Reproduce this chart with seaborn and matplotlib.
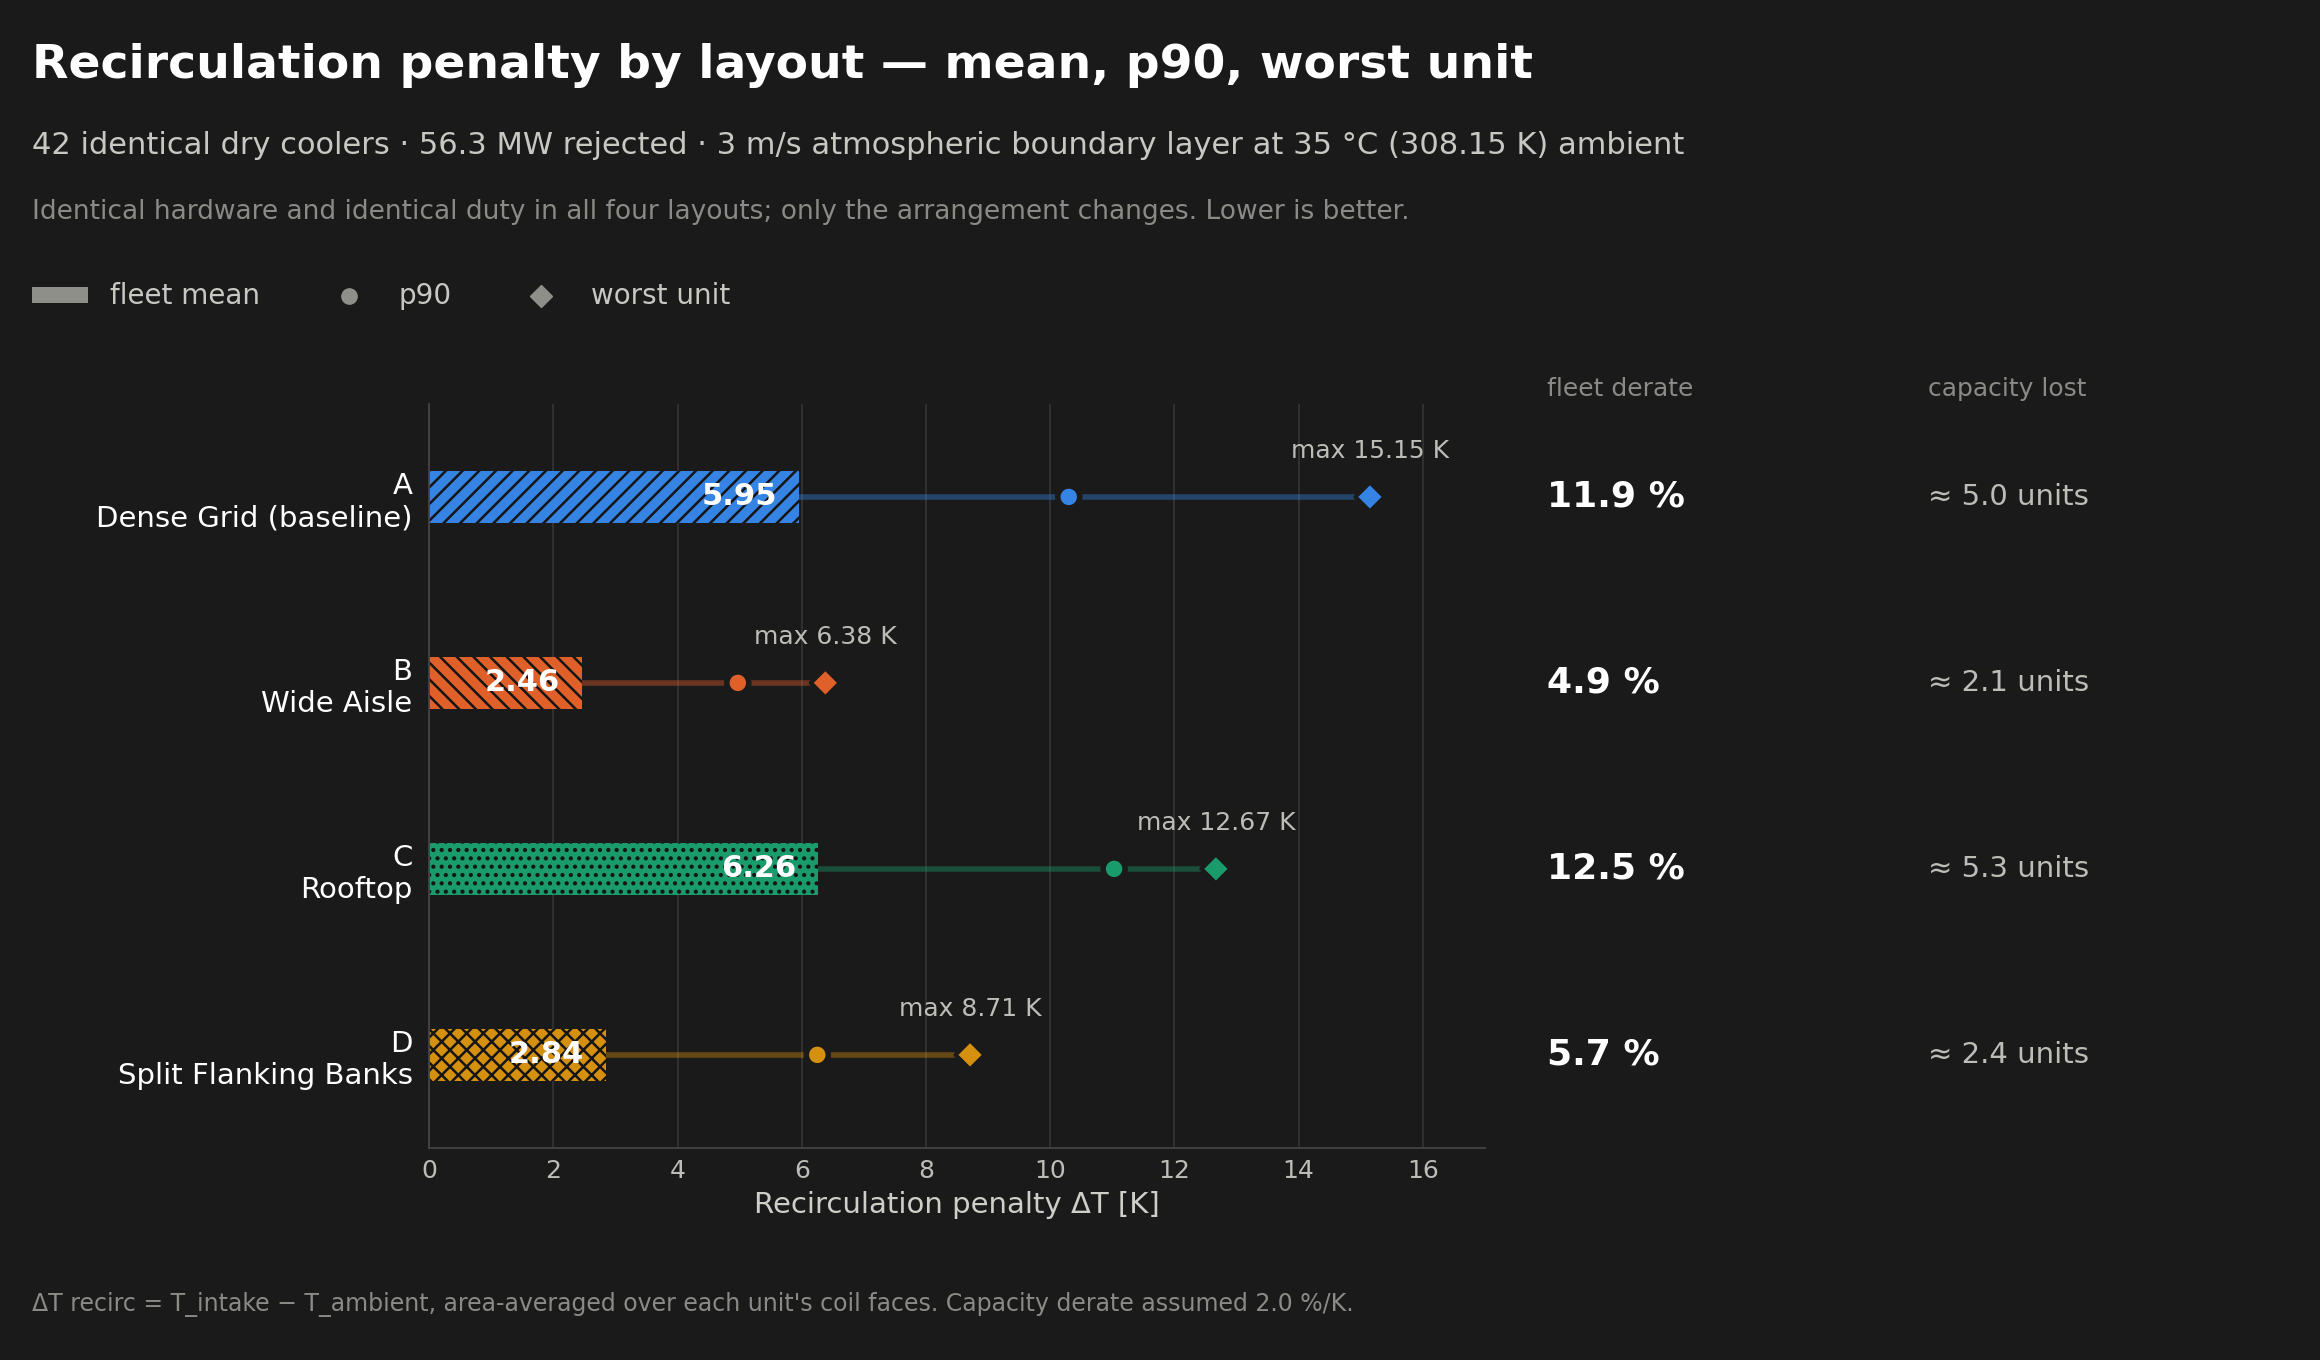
import matplotlib
matplotlib.use("Agg")
import matplotlib.pyplot as plt
import matplotlib.transforms as mtransforms
from matplotlib.patches import Patch
from matplotlib.lines import Line2D
import seaborn as sns
import pandas as pd

codes = ["A", "B", "C", "D"]
names = ["Dense Grid (baseline)", "Wide Aisle", "Rooftop", "Split Flanking Banks"]
mean_vals = [5.95, 2.46, 6.26, 2.84]
p90_vals = [10.3, 4.97, 11.03, 6.25]
worst_vals = [15.15, 6.38, 12.67, 8.71]
derate = ["11.9 %", "4.9 %", "12.5 %", "5.7 %"]
units_lost = ["≈ 5.0 units", "≈ 2.1 units", "≈ 5.3 units", "≈ 2.4 units"]
colors = ["#3584e4", "#e0602a", "#1a9b6c", "#d4900e"]
hatches = ["//", "\\\\", "..", "xx"]
xticks = [0, 2, 4, 6, 8, 10, 12, 14, 16]

BG = "#1a1a1a"
sns.set_theme(style="dark")
plt.rcParams["font.family"] = ["DejaVu Sans"]
plt.rcParams["hatch.linewidth"] = 1.8

fig = plt.figure(figsize=(23.2, 13.6), dpi=100, facecolor=BG)
ax = fig.add_axes([0.185, 0.156, 0.455, 0.547])
ax.set_facecolor(BG)

labels = [f"{c}\n{n}" for c, n in zip(codes, names)]
df = pd.DataFrame({"label": labels, "mean": mean_vals, "p90": p90_vals, "worst": worst_vals})

sns.barplot(data=df, x="mean", y="label", hue="label", palette=colors, orient="h",
            width=0.28, ax=ax, legend=False, linewidth=0, saturation=1)
for bar, h in zip(ax.patches, hatches):
    bar.set_hatch(h)
    bar.set_edgecolor("#151515")
    bar.set_linewidth(0)

for i in range(len(codes)):
    ax.plot([mean_vals[i], worst_vals[i]], [i, i], color=colors[i], alpha=0.4, lw=4, zorder=2,
            solid_capstyle="butt")
    ax.text(mean_vals[i] - 0.35, i, f"{mean_vals[i]:.2f}", ha="right", va="center",
            color="white", fontsize=22, fontweight="bold", zorder=5)
    ax.text(worst_vals[i], i - 0.18, f"max {worst_vals[i]:.2f} K", ha="center", va="bottom",
            color="#bdbdb8", fontsize=18, zorder=5)

sns.scatterplot(x=df["p90"], y=df["label"], hue=df["label"], palette=colors, marker="o", s=250,
                edgecolor=BG, linewidth=4, ax=ax, legend=False, zorder=4)
sns.scatterplot(x=df["worst"], y=df["label"], hue=df["label"], palette=colors, marker="D", s=220,
                edgecolor=BG, linewidth=3, ax=ax, legend=False, zorder=4)

ax.set_xlim(0, 17)
ax.set_ylim(3.5, -0.5)
ax.set_xticks(xticks)
ax.set_xticklabels([str(t) for t in xticks], color="#bdbdb8", fontsize=18)
ax.tick_params(axis="y", labelsize=21, labelcolor="white", length=0, pad=12)
ax.tick_params(axis="x", length=0, pad=8)
ax.set_ylabel("")
ax.set_xlabel("Recirculation penalty ΔT [K]", color="#cfcfca", fontsize=21, labelpad=6)
for lab in ax.get_yticklabels():
    lab.set_multialignment("right")
ax.grid(axis="x", color="#333333", lw=1.3)
ax.grid(axis="y", visible=False)
for s in ["top", "right"]:
    ax.spines[s].set_visible(False)
for s in ["left", "bottom"]:
    ax.spines[s].set_color("#444444")
    ax.spines[s].set_linewidth(1.3)

trans = mtransforms.blended_transform_factory(fig.transFigure, ax.transData)
for i in range(len(codes)):
    fig.text(0.667, i, derate[i], transform=trans, color="white", fontsize=26,
             fontweight="bold", va="center")
    fig.text(0.831, i, units_lost[i], transform=trans, color="#bdbdb8", fontsize=21, va="center")
fig.text(0.667, 0.714, "fleet derate", color="#8a8a86", fontsize=18, va="center")
fig.text(0.831, 0.714, "capacity lost", color="#8a8a86", fontsize=18, va="center")

fig.text(0.014, 0.952, "Recirculation penalty by layout — mean, p90, worst unit", color="white",
         fontsize=34, fontweight="bold", va="center")
fig.text(0.014, 0.893, "42 identical dry coolers · 56.3 MW rejected · 3 m/s atmospheric boundary layer at 35 °C (308.15 K) ambient",
         color="#c8c8c3", fontsize=22, va="center")
fig.text(0.014, 0.844, "Identical hardware and identical duty in all four layouts; only the arrangement changes. Lower is better.",
         color="#8a8a86", fontsize=19, va="center")
fig.text(0.014, 0.041, "ΔT recirc = T_intake − T_ambient, area-averaged over each unit's coil faces. Capacity derate assumed 2.0 %/K.",
         color="#8a8a86", fontsize=17, va="center")

handles = [Patch(facecolor="#8f8f8a", edgecolor="none"),
           Line2D([], [], marker="o", ls="none", color="#8f8f8a", markersize=11),
           Line2D([], [], marker="D", ls="none", color="#8f8f8a", markersize=11)]
leg = fig.legend(handles, ["fleet mean", "p90", "worst unit"], loc="center left",
                 bbox_to_anchor=(0.003, 0.782), ncol=3, frameon=False, fontsize=20,
                 labelcolor="#c8c8c3", handlelength=2.0, handleheight=0.5, columnspacing=2.2)

fig.savefig("out.png", dpi=100, facecolor=BG)
